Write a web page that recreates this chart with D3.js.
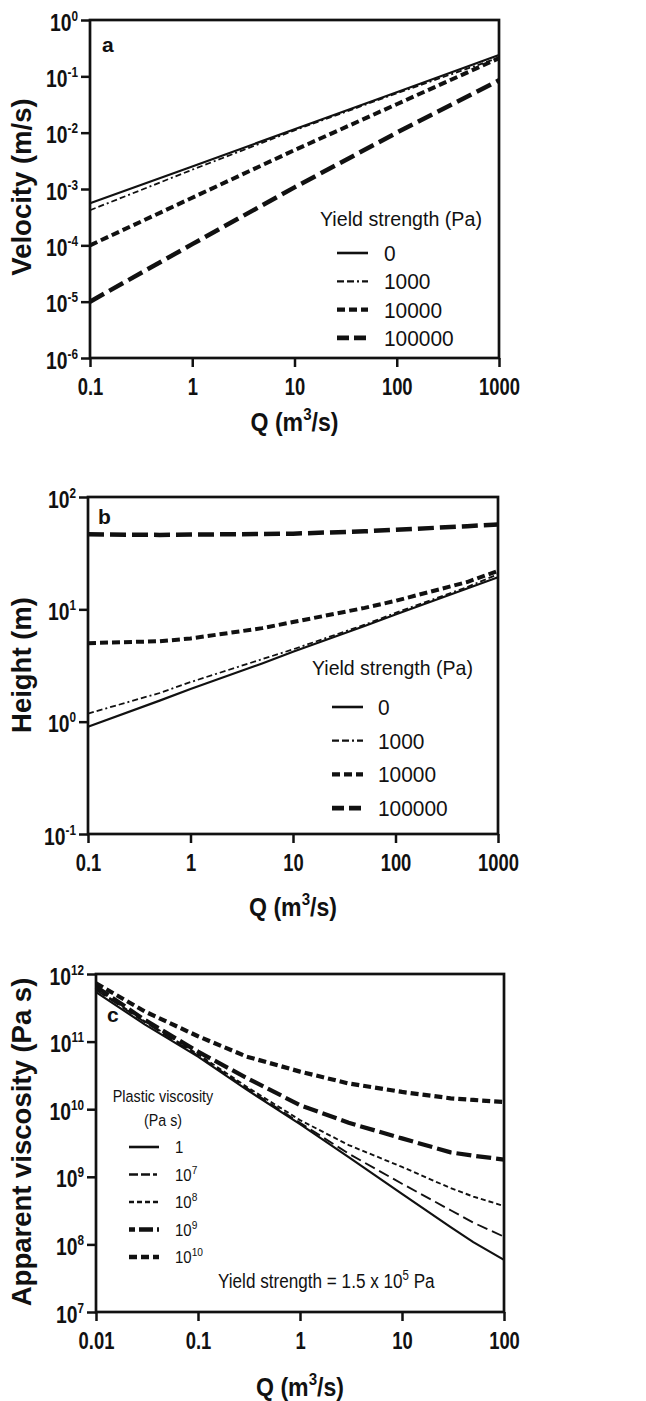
<!DOCTYPE html>
<html>
<head>
<meta charset="utf-8">
<script src="https://cdn.jsdelivr.net/npm/d3@7"></script>
<style>
  body { margin: 0; background: #fff; }
  svg { display: block; }
  .tick line { stroke: #111; stroke-width: 2.5px; }
  .domain { stroke: none; }
</style>
</head>
<body>
<svg id="chart" width="646" height="1401"></svg>
<script>
"use strict";
// panel a / b: discharge vs velocity / height for 4 yield strengths
var qA = [0.1, 1, 10, 100, 1000];
var vel0 = [5.6e-4, 2.5e-3, 1.15e-2, 5.2e-2, 0.24];
var vel1000 = [4.2e-4, 2.2e-3, 1.1e-2, 5.0e-2, 0.215];
var vel10000 = [1.0e-4, 7.0e-4, 4.9e-3, 3.2e-2, 0.21];
var vel100000 = [1.0e-5, 1.05e-4, 1.07e-3, 1.0e-2, 0.085];

var qB = [0.1, 0.5, 1, 5, 10, 50, 100, 500, 1000];
var h0 = [0.9, 1.54, 1.95, 3.3, 4.2, 7.1, 9.0, 15.3, 19.3];
var h1000 = [1.18, 1.8, 2.25, 3.6, 4.4, 7.3, 9.3, 15.8, 20.5];
var h10000 = [5.0, 5.2, 5.5, 6.8, 7.7, 10.3, 11.9, 17.5, 22];
var h100000 = [46.5, 46, 46.3, 46.8, 47.2, 49.5, 51, 55, 57];

var yieldLabels = ["0", "1000", "10000", "100000"];

// panel c: apparent viscosity for 5 plastic viscosities
var qC = [0.01, 0.03, 0.1, 0.3, 1, 3, 10, 30, 50, 100];
var av1 = [5.4e11, 1.8e11, 6.0e10, 1.95e10, 6.0e9, 1.95e9, 5.6e8, 1.8e8, 1.08e8, 5.9e7];
var av7 = [5.8e11, 1.95e11, 6.2e10, 2.05e10, 6.3e9, 2.2e9, 7.9e8, 3.2e8, 2.1e8, 1.3e8];
var av8 = [6.0e11, 2.0e11, 6.5e10, 2.15e10, 6.9e9, 2.95e9, 1.4e9, 6.8e8, 5.1e8, 3.7e8];
var av9 = [6.5e11, 2.1e11, 7.1e10, 2.9e10, 1.15e10, 6.3e9, 3.7e9, 2.3e9, 2.05e9, 1.8e9];
var av10 = [7.3e11, 2.8e11, 1.2e11, 6.0e10, 3.6e10, 2.4e10, 1.8e10, 1.45e10, 1.37e10, 1.28e10];
var plasticExp = ["", "7", "8", "9", "10"];

var xTicksAB = [0.1, 1, 10, 100, 1000];
var xTicksC = [0.01, 0.1, 1, 10, 100];

var styleA = [
    { width: 2.2, dash: null },
    { width: 1.8, dash: "6,3,6,3,2,3" },
    { width: 4, dash: "8,4" },
    { width: 4.5, dash: "16,6" }
];
var styleC = [
    { width: 2.2, dash: null },
    { width: 1.9, dash: "11,5" },
    { width: 1.9, dash: "5,3" },
    { width: 4.2, dash: "15,5" },
    { width: 4.2, dash: "8,4" }
];

var fontFam = "'Liberation Sans',Arial,Helvetica,sans-serif";
var svg = d3.select("#chart");

// narrow a text by scaling it around its anchor point (x,y)
function narrow(t, x, y, f) {
    t.attr("x", 0).attr("y", 0)
        .attr("transform", "translate(" + x + "," + y + ") scale(" + f + ",1)");
}
function narrowTo(t, x, y, w) {
    var bw = t.node().getBBox().width;
    narrow(t, x, y, w / bw);
}

function drawPanel(cfg) {
    var g = svg.append("g");
    var x = d3.scaleLog().domain(cfg.xdom).range(cfg.xr);
    var y = d3.scaleLog().domain(cfg.ydom).range(cfg.yr);

    var xa = g.append("g")
        .attr("transform", "translate(0," + cfg.yr[0] + ")")
        .call(d3.axisBottom(x).tickValues(cfg.xticks).tickSize(9).tickFormat(function (d) { return d3.format("~g")(d); }));
    xa.selectAll("text")
        .attr("y", 21)
        .attr("transform", "scale(0.8,1)")
        .style("font-family", fontFam).style("font-weight", "bold").style("font-size", "23px").attr("fill", "#111");

    var yvals = d3.range(Math.log10(cfg.ydom[0]), Math.log10(cfg.ydom[1]) + 1);
    var ya = g.append("g")
        .attr("transform", "translate(" + cfg.xr[0] + ",0)")
        .call(d3.axisLeft(y).tickValues(yvals.map(function (e) { return Math.pow(10, e); })).tickSize(9).tickFormat(""));
    ya.selectAll(".tick").each(function (d) {
        var t = d3.select(this).append("text")
            .attr("text-anchor", "end")
            .attr("fill", "#111")
            .style("font-family", fontFam).style("font-weight", "bold").style("font-size", "23px");
        t.append("tspan").text("10");
        t.append("tspan").attr("dy", -10).style("font-size", "14px").text(Math.round(Math.log10(d)));
        narrow(t, -12, 10, 0.84);
    });

    g.append("rect")
        .attr("x", cfg.xr[0]).attr("y", cfg.yr[1])
        .attr("width", cfg.xr[1] - cfg.xr[0]).attr("height", cfg.yr[0] - cfg.yr[1])
        .attr("fill", "none").attr("stroke", "#111").attr("stroke-width", 2.7);

    var line = d3.line()
        .x(function (d) { return x(d[0]); })
        .y(function (d) { return y(d[1]); });
    cfg.series.forEach(function (s, i) {
        g.append("path")
            .datum(cfg.q.map(function (q, j) { return [q, s[j]]; }))
            .attr("d", line)
            .attr("fill", "none")
            .attr("stroke", "#111")
            .attr("stroke-width", cfg.styles[i].width)
            .attr("stroke-dasharray", cfg.styles[i].dash);
    });

    g.append("text")
        .attr("x", cfg.letter[0]).attr("y", cfg.letter[1])
        .attr("fill", "#111")
        .style("font-family", fontFam).style("font-weight", "bold").style("font-size", "21px")
        .text(cfg.letterText);

    // x title
    var xt = g.append("text")
        .attr("text-anchor", "middle").attr("fill", "#111")
        .style("font-family", fontFam).style("font-weight", "bold").style("font-size", "26px");
    xt.append("tspan").text("Q (m");
    xt.append("tspan").attr("dy", -11).style("font-size", "17px").text("3");
    xt.append("tspan").attr("dy", 11).text("/s)");
    narrowTo(xt, (cfg.xr[0] + cfg.xr[1]) / 2, cfg.xtitleY, 88);

    // y title
    g.append("text")
        .attr("transform", "translate(31," + cfg.ytitleY + ") rotate(-90)")
        .attr("text-anchor", "middle").attr("fill", "#111")
        .style("font-family", fontFam).style("font-weight", "bold").style("font-size", "27.5px")
        .text(cfg.ytitle);

    return g;
}

function drawLegend(g, lg) {
    lg.title.forEach(function (tt, k) {
        var t = g.append("text")
            .attr("text-anchor", lg.titleAnchor).attr("fill", "#111")
            .style("font-family", fontFam).style("font-size", lg.titleSize + "px")
            .text(tt);
        narrowTo(t, lg.titleX, lg.titleY + k * lg.titleGap, lg.titleW[k]);
    });
    lg.labels.forEach(function (lab, i) {
        var yy = lg.y0 + i * lg.gap;
        g.append("line")
            .attr("x1", lg.x0).attr("x2", lg.x0 + lg.len)
            .attr("y1", yy).attr("y2", yy)
            .attr("stroke", "#111")
            .attr("stroke-width", lg.styles[i].width + 0.4)
            .attr("stroke-dasharray", lg.legDash[i]);
        var t = g.append("text")
            .attr("fill", "#111")
            .style("font-family", fontFam).style("font-size", lg.size + "px");
        t.append("tspan").text(lab.base);
        if (lab.sup) t.append("tspan").attr("dy", -7).style("font-size", (lg.size * 0.68) + "px").text(lab.sup);
        narrow(t, lg.x0 + lg.len + lg.pad, yy + lg.size * 0.36, lg.squeeze);
    });
}

var gA = drawPanel({
    xdom: [0.1, 1000], xr: [90, 499], ydom: [1e-6, 1], yr: [358, 20],
    xticks: xTicksAB, q: qA, series: [vel0, vel1000, vel10000, vel100000], styles: styleA,
    letter: [102, 52], letterText: "a", xtitleY: 431, ytitle: "Velocity (m/s)", ytitleY: 187
});
drawLegend(gA, {
    title: ["Yield strength (Pa)"], titleW: [162], titleX: 320, titleY: 226, titleGap: 0, titleAnchor: "start", titleSize: 21,
    labels: yieldLabels.map(function (l) { return { base: l }; }),
    x0: 337, len: 31, pad: 16, y0: 253, gap: 28.3, size: 22, squeeze: 0.95, styles: styleA,
    legDash: [null, "7,3,7,3,2,3", "8,4", "12,5"]
});

var gB = drawPanel({
    xdom: [0.1, 1000], xr: [88, 498], ydom: [0.1, 100], yr: [834, 497],
    xticks: xTicksAB, q: qB, series: [h0, h1000, h10000, h100000], styles: styleA,
    letter: [98, 524], letterText: "b", xtitleY: 916, ytitle: "Height (m)", ytitleY: 665
});
drawLegend(gB, {
    title: ["Yield strength (Pa)"], titleW: [161], titleX: 312, titleY: 675, titleGap: 0, titleAnchor: "start", titleSize: 21,
    labels: yieldLabels.map(function (l) { return { base: l }; }),
    x0: 332, len: 31, pad: 15, y0: 707, gap: 33.7, size: 22, squeeze: 0.95, styles: styleA,
    legDash: [null, "7,3,7,3,2,3", "8,4", "12,5"]
});

var gC = drawPanel({
    xdom: [0.01, 100], xr: [96, 504], ydom: [1e7, 1e12], yr: [1312, 974],
    xticks: xTicksC, q: qC, series: [av1, av7, av8, av9, av10], styles: styleC,
    letter: [107, 1022], letterText: "c", xtitleY: 1396, ytitle: "Apparent viscosity (Pa s)", ytitleY: 1142
});
drawLegend(gC, {
    title: ["Plastic viscosity", "(Pa s)"], titleW: [101, 38], titleX: 163, titleY: 1102, titleGap: 24, titleAnchor: "middle", titleSize: 17,
    labels: plasticExp.map(function (e, i) { return i === 0 ? { base: "1" } : { base: "10", sup: e }; }),
    x0: 129, len: 30, pad: 16, y0: 1147, gap: 27.5, size: 17, squeeze: 0.88, styles: styleC,
    legDash: [null, "9,3,9,3,4,3", "5,3", "6,4,14,4", "8,4"]
});
var ann = gC.append("text")
    .attr("fill", "#111")
    .style("font-family", fontFam).style("font-size", "21px");
ann.append("tspan").text("Yield strength = 1.5 x 10");
ann.append("tspan").attr("dy", -8).style("font-size", "14px").text("5");
ann.append("tspan").attr("dy", 8).text(" Pa");
narrowTo(ann, 218, 1288, 217);
</script>
</body>
</html>
